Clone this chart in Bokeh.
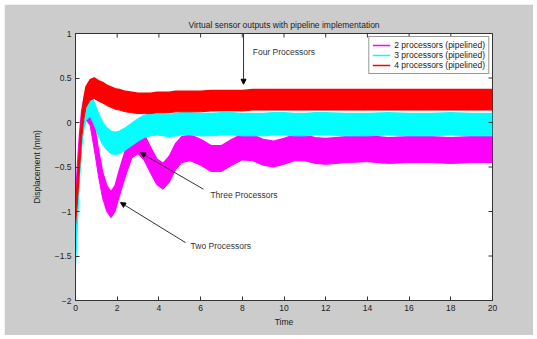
import math
from bokeh.plotting import figure
from bokeh.models import (ColumnDataSource, Legend, LegendItem, Arrow, NormalHead,
                          FixedTicker)
from bokeh.core.properties import value
from bokeh.embed import file_html
from bokeh.resources import INLINE

# ---- data (band envelopes of the noisy signals) ----
time = [0, 0.1, 0.2, 0.3, 0.4, 0.5, 0.7, 0.9, 1.1, 1.3, 1.5, 1.7, 1.9, 2.1,
        2.4, 2.7, 3.0, 3.3, 3.6, 3.9, 4.2, 4.5, 4.8, 5.1, 5.5, 6.0, 6.5, 7.0,
        7.5, 8.0, 8.5, 9.0, 9.5, 10, 10.5, 11, 11.5, 12, 13, 14, 15, 16, 17,
        18, 19, 20]

two_upper = [-0.86, -0.46, -0.11, 0.14, 0.26, 0.32, 0.26, -0.01, -0.31, -0.56,
             -0.71, -0.78, -0.71, -0.54, -0.31, -0.11, -0.06, -0.14, -0.28,
             -0.41, -0.46, -0.38, -0.24, -0.16, -0.14, -0.19, -0.26, -0.26,
             -0.19, -0.13, -0.14, -0.19, -0.21, -0.18, -0.14, -0.14, -0.17,
             -0.18, -0.16, -0.15, -0.17, -0.16, -0.16, -0.17, -0.16, -0.16]
two_lower = [-1.15, -0.75, -0.4, -0.15, -0.03, 0.03, -0.03, -0.3, -0.6, -0.85,
             -1.0, -1.07, -1.0, -0.83, -0.6, -0.4, -0.35, -0.43, -0.57, -0.7,
             -0.75, -0.67, -0.53, -0.45, -0.43, -0.48, -0.55, -0.55, -0.48,
             -0.42, -0.43, -0.48, -0.5, -0.47, -0.43, -0.43, -0.46, -0.47,
             -0.45, -0.44, -0.46, -0.45, -0.45, -0.46, -0.45, -0.45]

three_upper = [-1.38, -0.88, -0.38, -0.03, 0.17, 0.27, 0.32, 0.22, 0.1, 0.0,
               -0.06, -0.1, -0.11, -0.1, -0.06, -0.01, 0.04, 0.08, 0.1, 0.11,
               0.1, 0.09, 0.1, 0.11, 0.11, 0.1, 0.1, 0.11, 0.11, 0.1, 0.1, 0.1,
               0.11, 0.11, 0.1, 0.1, 0.11, 0.11, 0.1, 0.1, 0.11, 0.1, 0.1,
               0.11, 0.1, 0.1]
three_lower = [-1.63, -1.13, -0.63, -0.28, -0.08, 0.02, 0.07, -0.03, -0.15,
               -0.25, -0.31, -0.35, -0.36, -0.35, -0.31, -0.26, -0.21, -0.17,
               -0.15, -0.14, -0.15, -0.16, -0.15, -0.14, -0.14, -0.15, -0.15,
               -0.14, -0.14, -0.15, -0.15, -0.15, -0.14, -0.14, -0.15, -0.15,
               -0.14, -0.14, -0.15, -0.15, -0.14, -0.15, -0.15, -0.14, -0.15,
               -0.15]

four_upper = [-0.93, -0.63, -0.28, 0.07, 0.27, 0.4, 0.48, 0.5, 0.47, 0.45,
              0.42, 0.4, 0.38, 0.37, 0.35, 0.34, 0.33, 0.33, 0.33, 0.34, 0.34,
              0.34, 0.35, 0.35, 0.35, 0.35, 0.36, 0.36, 0.36, 0.36, 0.37, 0.37,
              0.37, 0.37, 0.37, 0.37, 0.37, 0.37, 0.37, 0.37, 0.37, 0.37, 0.37,
              0.37, 0.37, 0.37]
four_lower = [-1.16, -0.86, -0.51, -0.16, 0.04, 0.17, 0.25, 0.27, 0.24, 0.22,
              0.19, 0.17, 0.15, 0.14, 0.12, 0.11, 0.1, 0.1, 0.1, 0.11, 0.11,
              0.11, 0.12, 0.12, 0.12, 0.12, 0.13, 0.13, 0.13, 0.13, 0.14, 0.14,
              0.14, 0.14, 0.14, 0.14, 0.14, 0.14, 0.14, 0.14, 0.14, 0.14, 0.14,
              0.14, 0.14, 0.14]

series_labels = ["2 processors (pipelined)", "3 processors (pipelined)",
                 "4 processors (pipelined)"]
series_colors = ["#ff00ff", "#00ffff", "#ff0000"]

x_ticks = [0, 2, 4, 6, 8, 10, 12, 14, 16, 18, 20]
y_ticks = [-2, -1.5, -1, -0.5, 0, 0.5, 1]

# annotations: text and arrows
note_text = ["Four Processors", "Three Processors", "Two Processors"]
note_x = [8.5, 6.47, 5.52]
note_y = [0.79, -0.81, -1.39]
arrow_x0 = [8.06, 6.14, 5.28]
arrow_y0 = [1.0, -0.75, -1.35]
arrow_x1 = [8.06, 3.12, 2.16]
arrow_y1 = [0.43, -0.34, -0.90]

FONT = "Liberation Sans"
GRAY = "#cccccc"
DARK = "#333333"

p = figure(width=529, height=331, x_range=(0, 20), y_range=(-2, 1),
           output_backend="svg", toolbar_location=None,
           background_fill_color="white", border_fill_color=GRAY,
           min_border_left=71, min_border_right=41, min_border_top=29,
           min_border_bottom=35, margin=(4, 4, 4, 4),
           title="Virtual sensor outputs with pipeline implementation")
p.title.align = "center"
p.title.text_font = FONT
p.title.text_font_size = "8.5px"
p.title.text_font_style = "normal"
p.title.text_color = "#222222"
p.title.standoff = 8
p.outline_line_color = DARK
p.grid.visible = False

src = ColumnDataSource(dict(t=time, u2=two_upper, l2=two_lower,
                            u3=three_upper, l3=three_lower,
                            u4=four_upper, l4=four_lower))
items = []
for (u, l), color, lab in zip([("u2", "l2"), ("u3", "l3"), ("u4", "l4")],
                              series_colors, series_labels):
    p.varea(x="t", y1=l, y2=u, source=src, fill_color=color)
    r = p.line(x="t", y=u, source=src, line_color=color, line_width=1.5)
    p.line(x="t", y=l, source=src, line_color=color, line_width=1)
    items.append(LegendItem(label=lab, renderers=[r]))

legend = Legend(items=items, location="top_right", margin=3,
                label_text_font=FONT, label_text_font_size="8.5px",
                label_text_color="#222222", label_height=10, label_standoff=4,
                glyph_height=10, glyph_width=18, spacing=0, padding=3,
                border_line_color=DARK, background_fill_color="white",
                background_fill_alpha=1)
p.add_layout(legend)

# inner ticks on the top and right edges of the box
p.scatter(x=x_ticks, y=[1] * len(x_ticks), marker="dash", size=8,
          angle=math.pi / 2, line_color=DARK, line_width=1)
p.scatter(x=[20] * len(y_ticks), y=y_ticks, marker="dash", size=8,
          line_color=DARK, line_width=1)

# annotations
nsrc = ColumnDataSource(dict(x=note_x, y=note_y, text=note_text))
p.text(x="x", y="y", text="text", source=nsrc, text_font=value(FONT),
       text_font_size="8.5px", text_color=DARK, text_baseline="middle",
       text_align="left")
asrc = ColumnDataSource(dict(x0=arrow_x0, y0=arrow_y0, x1=arrow_x1, y1=arrow_y1))
p.add_layout(Arrow(source=asrc, x_start="x0", y_start="y0", x_end="x1",
                   y_end="y1", line_color=DARK, line_width=1,
                   end=NormalHead(size=5, fill_color="black",
                                  line_color="black")))

# axes
for ax in (p.xaxis[0], p.yaxis[0]):
    ax.major_tick_in = 4
    ax.major_tick_out = 0
    ax.minor_tick_line_color = None
    ax.major_label_text_font = FONT
    ax.major_label_text_font_size = "8.5px"
    ax.major_label_text_color = "#222222"
    ax.axis_label_text_font = FONT
    ax.axis_label_text_font_size = "8.5px"
    ax.axis_label_text_font_style = "normal"
    ax.axis_label_text_color = "#222222"
    ax.axis_line_color = DARK
    ax.major_tick_line_color = DARK
    ax.major_label_standoff = 4

p.xaxis[0].ticker = FixedTicker(ticks=x_ticks)
p.yaxis[0].ticker = FixedTicker(ticks=y_ticks)
p.xaxis[0].axis_label = "Time"
p.yaxis[0].axis_label = "Displacement (mm)"
p.xaxis[0].axis_label_standoff = 3
p.yaxis[0].axis_label_standoff = 10

open("out.html", "w").write(file_html(p, INLINE))
